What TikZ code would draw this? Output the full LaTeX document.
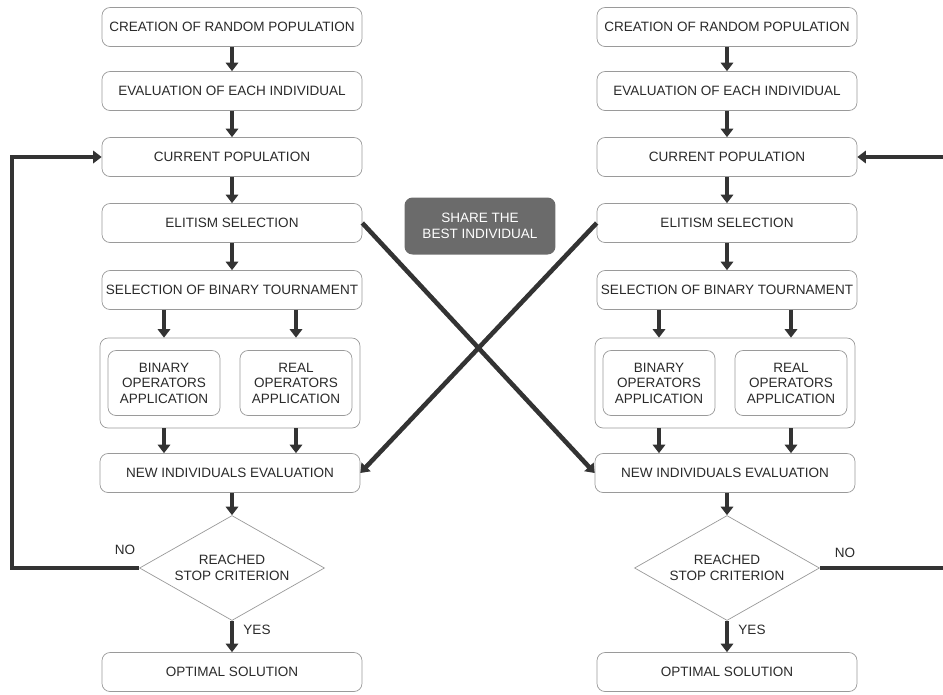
\documentclass[tikz,border=0pt]{standalone}
\usepackage{fontspec}
\setmainfont{Liberation Sans}
\usetikzlibrary{shapes.geometric,arrows.meta}
\definecolor{boxline}{HTML}{9A9A9A}
\definecolor{arrowgray}{HTML}{333333}
\definecolor{sharegray}{HTML}{6B6B6B}
\definecolor{txtgray}{HTML}{2A2A2A}

\begin{document}
\begin{tikzpicture}[x=0.02cm, y=-0.02cm, font=\fontsize{7.7}{8.8}\selectfont]
\clip (0,0) rectangle (943,694);

\tikzset{every node/.style={draw=boxline, fill=white, rounded corners=0.16cm, text=txtgray, align=center, minimum width=5.2cm, minimum height=0.78cm, inner sep=1pt}}
% left island
\node (l1) at (232, 27) {CREATION OF RANDOM POPULATION};
\node (l2) at (232, 91) {EVALUATION OF EACH INDIVIDUAL};
\node (l3) at (232, 157) {CURRENT POPULATION};
\node (l4) at (232, 223) {ELITISM SELECTION};
\node (l5) at (232, 290) {SELECTION OF BINARY TOURNAMENT};
\node[minimum height=1.8cm] (lc) at (230, 383) {};
\node[minimum width=2.24cm, minimum height=1.3cm] (lb) at (164, 383) {BINARY\\OPERATORS\\APPLICATION};
\node[minimum width=2.24cm, minimum height=1.3cm] (lr) at (296, 383) {REAL\\OPERATORS\\APPLICATION};
\node (l6) at (230, 473) {NEW INDIVIDUALS EVALUATION};
\node (l7) at (232, 672) {OPTIMAL SOLUTION};
% right island
\node (r1) at (727, 27) {CREATION OF RANDOM POPULATION};
\node (r2) at (727, 91) {EVALUATION OF EACH INDIVIDUAL};
\node (r3) at (727, 157) {CURRENT POPULATION};
\node (r4) at (727, 223) {ELITISM SELECTION};
\node (r5) at (727, 290) {SELECTION OF BINARY TOURNAMENT};
\node[minimum height=1.8cm] (rc) at (725, 383) {};
\node[minimum width=2.24cm, minimum height=1.3cm] (rb) at (659, 383) {BINARY\\OPERATORS\\APPLICATION};
\node[minimum width=2.24cm, minimum height=1.3cm] (rr) at (791, 383) {REAL\\OPERATORS\\APPLICATION};
\node (r6) at (725, 473) {NEW INDIVIDUALS EVALUATION};
\node (r7) at (727, 672) {OPTIMAL SOLUTION};

\tikzset{every node/.style={diamond, draw=boxline, fill=white, text=txtgray, align=center, aspect=1.76, minimum width=3.7cm, minimum height=2.1cm, inner sep=0pt}}
\node (ld) at (232, 568) {REACHED\\STOP CRITERION};
\node (rd) at (727, 568) {REACHED\\STOP CRITERION};

\tikzset{every node/.style={fill=sharegray, text=white, rounded corners=0.16cm, align=center, minimum width=3.02cm, minimum height=1.14cm}}
\node (share) at (480, 226) {SHARE THE\\BEST INDIVIDUAL};

\tikzset{every node/.style={text=txtgray}}
\node (lno) at (125, 550) {NO};
\node (lyes) at (257, 630) {YES};
\node (rno) at (845, 553) {NO};
\node (ryes) at (752, 630) {YES};

\tikzset{flow/.style={-{Triangle[length=4.8pt,width=7pt]}, line width=2.6pt, draw=arrowgray}}
\path (l1) edge [flow] (l2);
\path (l2) edge [flow] (l3);
\path (l3) edge [flow] (l4);
\path (l4) edge [flow] (l5);
\path (l5.south -| lb) edge [flow] (lc.north -| lb);
\path (l5.south -| lr) edge [flow] (lc.north -| lr);
\path (lc.south -| lb) edge [flow] (l6.north -| lb);
\path (lc.south -| lr) edge [flow] (l6.north -| lr);
\path (l6.south -| ld) edge [flow] (ld.north);
\path (ld.south) edge [flow] (l7.north -| ld);
\draw [flow] (ld.west) -- (12, 568) |- (l3.west);

\path (r1) edge [flow] (r2);
\path (r2) edge [flow] (r3);
\path (r3) edge [flow] (r4);
\path (r4) edge [flow] (r5);
\path (r5.south -| rb) edge [flow] (rc.north -| rb);
\path (r5.south -| rr) edge [flow] (rc.north -| rr);
\path (rc.south -| rb) edge [flow] (r6.north -| rb);
\path (rc.south -| rr) edge [flow] (r6.north -| rr);
\path (r6.south -| rd) edge [flow] (rd.north);
\path (rd.south) edge [flow] (r7.north -| rd);
\draw [flow] (rd.east) -- (950, 568) |- (r3.east);

% migration between islands
\path (l4.east) edge [flow] (r6.west);
\path (r4.west) edge [flow] (l6.east);
\end{tikzpicture}
\end{document}
